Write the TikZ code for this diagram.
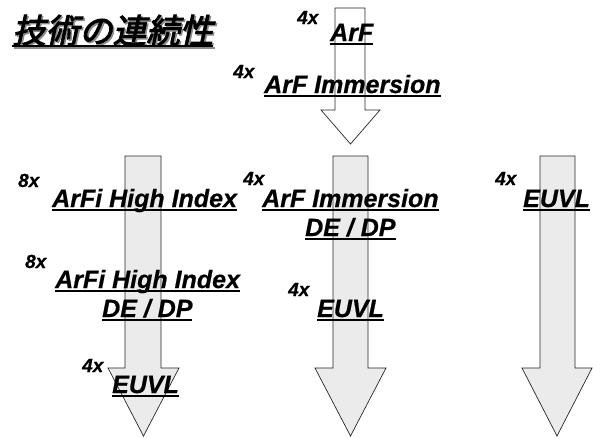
\documentclass[tikz,border=0pt]{standalone}
\usepackage{fontspec}
\setmainfont{Liberation Sans}[BoldItalicFeatures={FakeBold=0.6}]
\newfontfamily\cjk[FakeSlant=0.22,FakeBold=2.8]{Noto Sans CJK JP}
\newcommand\ulx[2][-3.5pt]{\setbox0\hbox{#2}\rlap{\rule[#1]{\wd0}{1.9pt}}\box0}
\tikzset{
  blockarrow/.style={draw=black!85, line width=0.7pt, fill=black!8, line join=miter},
  toparrow/.style={draw=black!85, line width=0.7pt, fill=white},
  lbl/.style={anchor=base west, inner sep=0pt, font=\bfseries\itshape\fontsize{25}{25}\selectfont},
  mag/.style={anchor=base west, inner sep=0pt, font=\bfseries\itshape\fontsize{19}{19}\selectfont},
  ttl/.style={anchor=base west, inner sep=0pt, font=\cjk\fontsize{33.5}{33.5}\selectfont}
}
\begin{document}
\begin{tikzpicture}[x=1pt,y=-1pt]
\useasboundingbox (0,0) rectangle (593,437);
% arrows
\draw[toparrow] (335,8) -- (365,8) -- (365,110) -- (380,110) -- (350.5,144) -- (321,110) -- (335,110) -- cycle;
\draw[blockarrow] (125,156) -- (161,156) -- (161,368) -- (179,368) -- (143.5,436) -- (108,368) -- (125,368) -- cycle;
\draw[blockarrow] (333,156) -- (368,156) -- (368,368) -- (386,368) -- (350.5,436) -- (315,368) -- (333,368) -- cycle;
\draw[blockarrow] (540,156) -- (575,156) -- (575,368) -- (592,368) -- (557,436) -- (522,368) -- (540,368) -- cycle;
% title
\node[ttl, text=black!45] (titleshadow) at (13.5,44.5) {\ulx[-4pt]{技術の連続性}};
\node[ttl] (title) at (12,43) {\ulx[-4pt]{技術の連続性}};
% top column
\node[mag] (m1) at (297,24) {4x};
\node[lbl] (t1) at (330,41) {\ulx{ArF}};
\node[mag] (m2) at (233,78) {4x};
\node[lbl] (t2) at (264,93) {\ulx{ArF Immersion}};
% left column
\node[mag] (m3) at (18,187) {8x};
\node[lbl] (l1) at (52,207) {\ulx{ArFi High Index}};
\node[mag] (m4) at (25,268) {8x};
\node[lbl] (l2) at (55,288) {\ulx{ArFi High Index}};
\node[lbl] (l3) at (102,317) {\ulx{DE / DP}};
\node[mag] (m5) at (82,372) {4x};
\node[lbl] (l4) at (112,393) {\ulx{EUVL}};
% middle column
\node[mag] (m6) at (243,185) {4x};
\node[lbl] (c1) at (262,207) {\ulx{ArF Immersion}};
\node[lbl] (c2) at (305,236) {\ulx{DE / DP}};
\node[mag] (m7) at (288,296) {4x};
\node[lbl] (c3) at (317,317) {\ulx{EUVL}};
% right column
\node[mag] (m8) at (495,185) {4x};
\node[lbl] (r1) at (523,207) {\ulx{EUVL}};
\end{tikzpicture}
\end{document}
